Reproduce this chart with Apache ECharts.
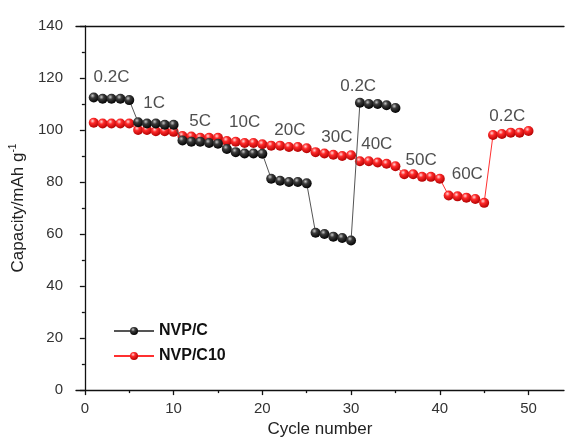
<!DOCTYPE html>
<html>
<head>
<meta charset="utf-8">
<script src="https://cdn.jsdelivr.net/npm/echarts@6/dist/echarts.min.js"></script>
<style>html,body{margin:0;padding:0;background:#fff;}#c{width:565px;height:443px;}</style>
</head>
<body>
<div id="c"></div>
<script>
// ---- data ----
const cycles = [];
for (let i = 1; i <= 50; i++) cycles.push(i);
const nvpC = [112.5,112,112,112,111.5, 103,102.5,102.5,102,102, 96,95.5,95.5,95,94.7, 92.7,91.5,91,91,90.9,
  81.3,80.5,80,80,79.5, 60.5,60,59,58.5,57.5, 110.5,110,110,109.5,108.5];
const nvpC10 = [102.8,102.5,102.5,102.5,102.5, 100,100,99.5,99.5,99.3, 97.7,97.5,97,97,97, 95.8,95.5,95,95,94.5,
  94,94,93.5,93.5,93, 91.5,91,90.5,90,90.3, 88,88,87.5,87,86.1, 83,83,82,82,81.3,
  74.8,74.5,74,73.5,72, 98.1,98.5,99,99,99.6];
const rateLabels = ['0.2C','1C','5C','10C','20C','30C','40C','50C','60C','0.2C','0.2C'];
const rateLabelX = [3.0, 7.8, 13.0, 18.0, 23.1, 28.4, 32.9, 37.9, 43.1, 30.8, 47.6];
const rateLabelY = [120.3, 110.3, 103.5, 102.9, 99.9, 97.2, 94.4, 88.3, 83.0, 116.7, 105.4];
const xMajorTicks = [0,10,20,30,40,50];
const xMinorTicks = [5,15,25,35,45];
const seriesNames = ['NVP/C','NVP/C10'];

function ball(light, mid, dark) {
  return { type:'radial', x:0.38, y:0.32, r:0.7,
    colorStops:[{offset:0,color:light},{offset:0.35,color:mid},{offset:1,color:dark}] };
}
const blackBall = ball('#c8c8c8', '#3a3a3a', '#000000');
const redBall = ball('#ffd8d8', '#ff2a2a', '#b00000');

const chart = echarts.init(document.getElementById('c'), null, {renderer:'canvas'});
const font = 'Liberation Sans, Arial, sans-serif';
const xBase = { type:'value', min:-1, max:54, gridIndex:0 };
chart.setOption({
  animation:false,
  backgroundColor:'#fff',
  grid:{ left:76, right:1, top:26, bottom:47, containLabel:false },
  legend:{
    orient:'vertical', left:108, top:318, itemWidth:40, itemHeight:10, itemGap:9,
    textStyle:{ fontFamily:font, fontSize:16, fontWeight:'bold', color:'#111' },
    data:seriesNames
  },
  xAxis:[
    Object.assign({}, xBase, {
      position:'bottom',
      name:'Cycle number', nameLocation:'middle', nameGap:30,
      nameTextStyle:{ fontFamily:font, fontSize:17, color:'#222' },
      axisLine:{ show:true, lineStyle:{ color:'#111', width:1.3 } },
      axisTick:{ show:true, inside:false, length:5, customValues:xMajorTicks, lineStyle:{ color:'#111', width:1.3 } },
      axisLabel:{ show:true, margin:11, customValues:xMajorTicks, fontFamily:font, fontSize:15, color:'#333' },
      splitLine:{ show:false }
    }),
    Object.assign({}, xBase, {
      position:'bottom',
      axisLine:{ show:false },
      axisTick:{ show:true, inside:false, length:3, customValues:xMinorTicks, lineStyle:{ color:'#111', width:1.3 } },
      axisLabel:{ show:false },
      splitLine:{ show:false }
    }),
    Object.assign({}, xBase, {
      position:'top',
      axisLine:{ show:true, lineStyle:{ color:'#111', width:1.3 } },
      axisTick:{ show:false }, axisLabel:{ show:false }, splitLine:{ show:false }
    })
  ],
  yAxis:{
    type:'value', min:0, max:140, interval:20,
    name:'Capacity/mAh g{sup|-1}', nameLocation:'middle', nameGap:43,
    nameTextStyle:{ fontFamily:font, fontSize:17, color:'#222',
      rich:{ sup:{ fontFamily:font, fontSize:10, color:'#222', verticalAlign:'top', padding:[0,0,10,0] } } },
    axisLine:{ show:true, lineStyle:{ color:'#111', width:1.3 } },
    axisTick:{ show:true, inside:false, length:5, lineStyle:{ color:'#111', width:1.3 } },
    minorTick:{ show:true, splitNumber:2, length:3, lineStyle:{ color:'#111', width:1.3 } },
    axisLabel:{ margin:13, fontFamily:font, fontSize:15, color:'#333' },
    splitLine:{ show:false }
  },
  series:[
    {
      name:seriesNames[1], type:'line', xAxisIndex:0, z:2,
      data:nvpC10.map((v,i)=>[cycles[i], v]),
      symbol:'circle', symbolSize:10, showAllSymbol:true,
      lineStyle:{ color:'#ff3030', width:1 },
      itemStyle:{ color:redBall, borderWidth:0 }
    },
    {
      name:seriesNames[0], type:'line', xAxisIndex:0, z:3,
      data:nvpC.map((v,i)=>[cycles[i], v]),
      symbol:'circle', symbolSize:10, showAllSymbol:true,
      lineStyle:{ color:'#555', width:1 },
      itemStyle:{ color:blackBall, borderWidth:0 }
    },
    {
      name:'labels', type:'scatter', xAxisIndex:0, silent:true, z:5,
      symbolSize:0,
      data:rateLabels.map((t,i)=>({ name:t, value:[rateLabelX[i], rateLabelY[i]] })),
      label:{ show:true, position:'inside', formatter:'{b}', fontFamily:font, fontSize:17, color:'#222' }
    }
  ]
});
</script>
</body>
</html>
